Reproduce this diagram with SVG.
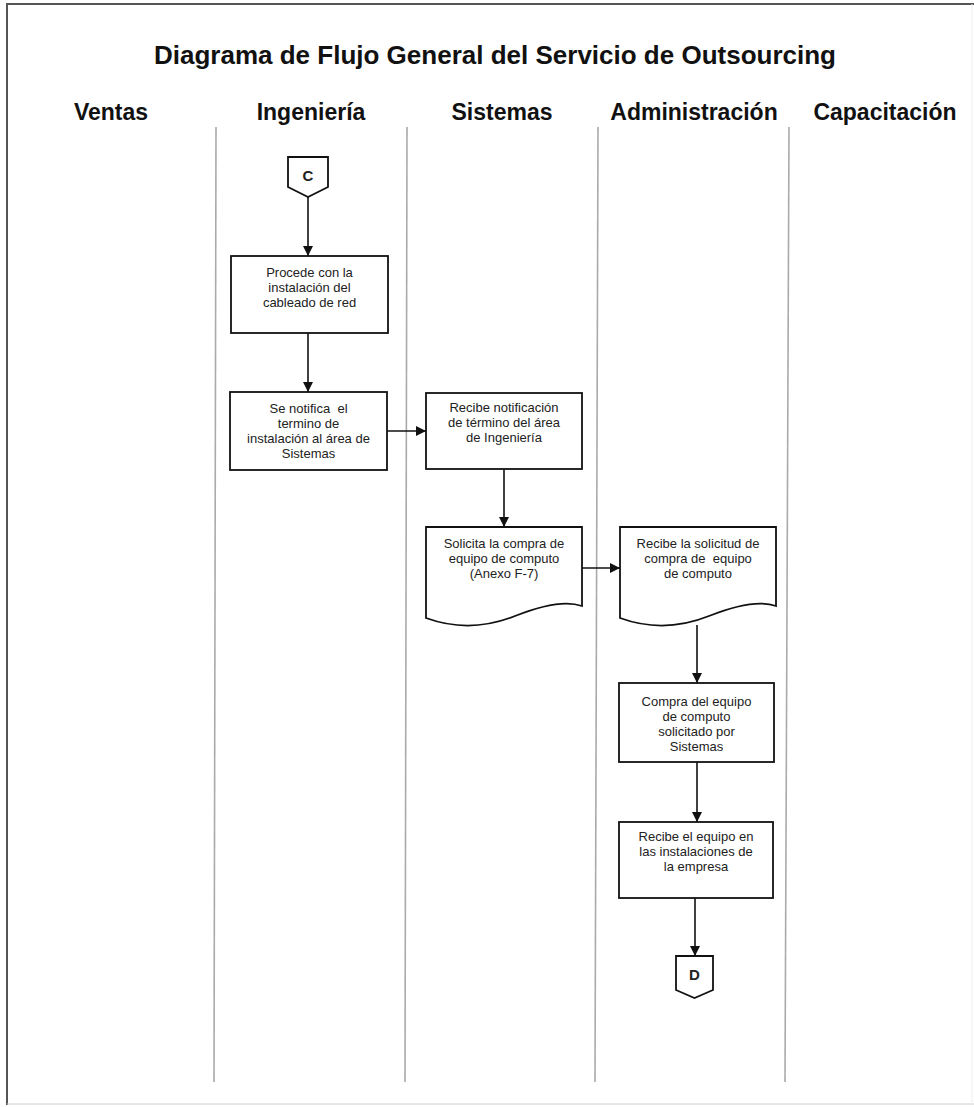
<svg xmlns="http://www.w3.org/2000/svg" width="974" height="1107" viewBox="0 0 974 1107">
  <defs>
    <marker id="arrow" viewBox="0 0 10 10" refX="10" refY="5" markerWidth="10" markerHeight="11" markerUnits="userSpaceOnUse" orient="auto">
      <path d="M0,0 L10,5 L0,10 Z" fill="#111"/>
    </marker>
    <style>
      .title { font-family: "Liberation Sans", Arial, sans-serif; font-weight: bold; font-size: 26px; fill: #111; text-anchor: middle; }
      .lane { font-family: "Liberation Sans", Arial, sans-serif; font-weight: bold; font-size: 23px; fill: #111; text-anchor: middle; }
      .label { font-family: "Liberation Sans", Arial, sans-serif; font-size: 13px; fill: #222; text-anchor: middle; }
      .conn-label { font-family: "Liberation Sans", Arial, sans-serif; font-weight: bold; font-size: 15px; fill: #222; text-anchor: middle; }
      .shape { fill: #fff; stroke: #111; stroke-width: 1.8; }
      .divider { stroke: #aaa; stroke-width: 1.6; fill: none; }
      .edge { stroke: #111; stroke-width: 1.6; fill: none; marker-end: url(#arrow); }
    </style>
  </defs>

  <rect width="974" height="1107" fill="#fff"/>

  <!-- page frame -->
  <g id="frame" fill="none">
    <line x1="6" y1="4" x2="974" y2="4" stroke="#555" stroke-width="2.2"/>
    <line x1="7" y1="4" x2="7" y2="1105" stroke="#555" stroke-width="2"/>
    <line x1="7" y1="1104" x2="974" y2="1104" stroke="#ccc" stroke-width="1"/>
    <line x1="972" y1="4" x2="972" y2="1104" stroke="#eee" stroke-width="1"/>
  </g>

  <text class="title" x="495" y="64">Diagrama de Flujo General del Servicio de Outsourcing</text>

  <!-- swimlane headings -->
  <g id="lanes">
    <text class="lane" x="111" y="120">Ventas</text>
    <text class="lane" x="311" y="120">Ingeniería</text>
    <text class="lane" x="502" y="120">Sistemas</text>
    <text class="lane" x="694" y="120">Administración</text>
    <text class="lane" x="885" y="120">Capacitación</text>
  </g>

  <!-- swimlane dividers -->
  <g id="dividers">
    <line class="divider" x1="216" y1="127" x2="214" y2="1082"/>
    <line class="divider" x1="407" y1="127" x2="405" y2="1082"/>
    <line class="divider" x1="598" y1="127" x2="595" y2="1082"/>
    <line class="divider" x1="789" y1="127" x2="785" y2="1082"/>
  </g>

  <!-- off-page connector C -->
  <g id="conn-c">
    <path class="shape" d="M288,157 H328 V187 L308,197 L288,187 Z"/>
    <text class="conn-label" x="308" y="181">C</text>
  </g>

  <g id="n1">
    <rect class="shape" x="231" y="256" width="157" height="77"/>
    <text class="label" x="309.5" y="277">Procede con la</text>
    <text class="label" x="309.5" y="292">instalación del</text>
    <text class="label" x="309.5" y="307">cableado de red</text>
  </g>

  <g id="n2">
    <rect class="shape" x="230" y="392" width="157" height="78"/>
    <text class="label" x="308.5" y="413" xml:space="preserve">Se notifica  el</text>
    <text class="label" x="308.5" y="428">termino de</text>
    <text class="label" x="308.5" y="443">instalación al área de</text>
    <text class="label" x="308.5" y="458">Sistemas</text>
  </g>

  <g id="n3">
    <rect class="shape" x="426" y="393" width="156" height="76"/>
    <text class="label" x="504" y="412">Recibe notificación</text>
    <text class="label" x="504" y="427">de término del área</text>
    <text class="label" x="504" y="442">de Ingeniería</text>
  </g>

  <!-- document: purchase request -->
  <g id="n4">
    <path class="shape" d="M426,527 H582 V606 Q560,598 515,616 Q470,634 426,618 Z"/>
    <text class="label" x="504" y="548">Solicita la compra de</text>
    <text class="label" x="504" y="563">equipo de computo</text>
    <text class="label" x="504" y="578">(Anexo F-7)</text>
  </g>

  <!-- document: request received -->
  <g id="n5">
    <path class="shape" d="M620,527 H776 V606 Q754,598 709,616 Q664,634 620,618 Z"/>
    <text class="label" x="698" y="548">Recibe la solicitud de</text>
    <text class="label" x="698" y="563" xml:space="preserve">compra de  equipo</text>
    <text class="label" x="698" y="578">de computo</text>
  </g>

  <g id="n6">
    <rect class="shape" x="619" y="683" width="155" height="79"/>
    <text class="label" x="696.5" y="706">Compra del equipo</text>
    <text class="label" x="696.5" y="721">de computo</text>
    <text class="label" x="696.5" y="736">solicitado por</text>
    <text class="label" x="696.5" y="751">Sistemas</text>
  </g>

  <g id="n7">
    <rect class="shape" x="619" y="822" width="154" height="76"/>
    <text class="label" x="696" y="841">Recibe el equipo en</text>
    <text class="label" x="696" y="856">las instalaciones de</text>
    <text class="label" x="696" y="871">la empresa</text>
  </g>

  <!-- off-page connector D -->
  <g id="conn-d">
    <path class="shape" d="M676,956 H713 V990 L694.5,998 L676,990 Z"/>
    <text class="conn-label" x="694.5" y="980">D</text>
  </g>

  <!-- flow connectors -->
  <g id="edges">
    <line class="edge" x1="308" y1="197" x2="308" y2="256"/>
    <line class="edge" x1="308" y1="333" x2="308" y2="392"/>
    <line class="edge" x1="387" y1="431" x2="426" y2="431"/>
    <line class="edge" x1="504" y1="469" x2="504" y2="527"/>
    <line class="edge" x1="582" y1="568" x2="620" y2="568"/>
    <line class="edge" x1="697" y1="625" x2="697" y2="683"/>
    <line class="edge" x1="697" y1="762" x2="697" y2="822"/>
    <line class="edge" x1="695" y1="898" x2="695" y2="956"/>
  </g>
</svg>
